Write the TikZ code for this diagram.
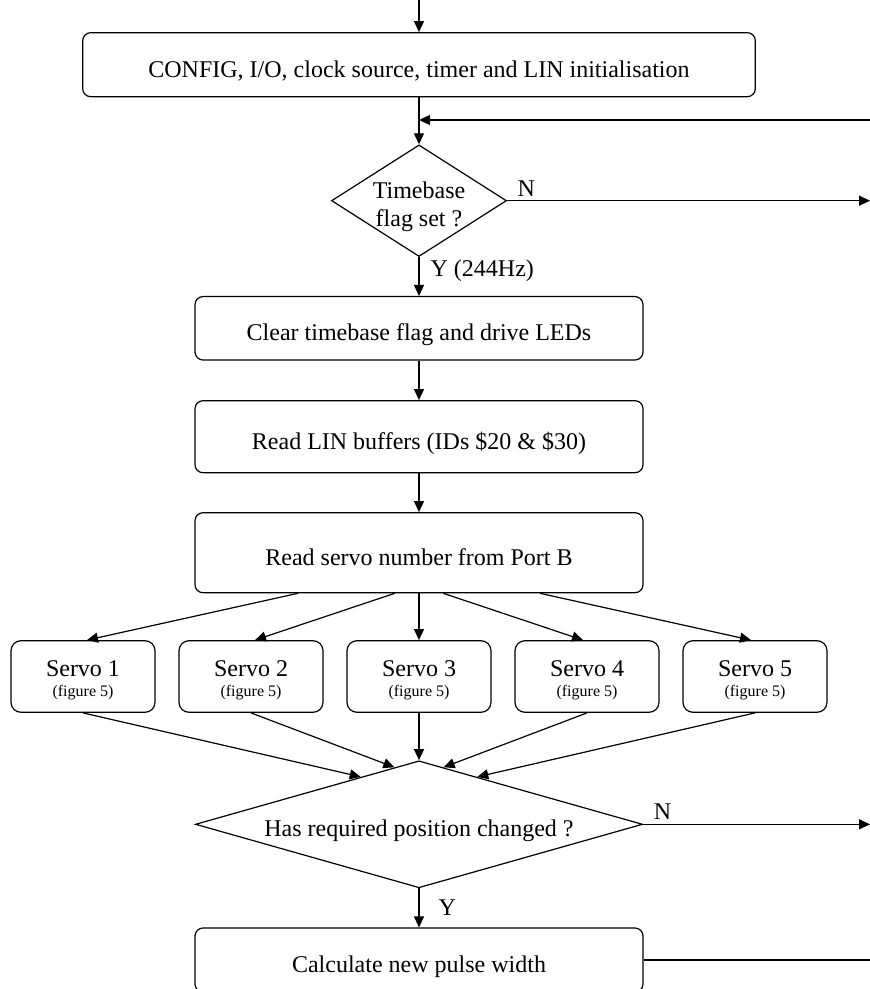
\documentclass[tikz,border=0pt]{standalone}
\usepackage{fontspec}
\setmainfont{Liberation Serif}
\usepackage{tikz}
\usetikzlibrary{shapes.geometric,arrows.meta,calc}

\tikzset{
  procbox/.style={draw, rounded corners=4pt, minimum width=224pt, inner sep=2pt, text height=15pt, text depth=2.5pt},
  decision/.style={draw, diamond, inner sep=0pt, align=center},
  servobox/.style={draw, rounded corners=5pt, minimum width=72pt, minimum height=35.8pt, inner sep=1pt, align=center, text height=22pt},
  flow/.style={-{Triangle[length=5.5pt,width=5pt]}},
  lbl/.style={inner sep=2pt}
}

\begin{document}
\begin{tikzpicture}[x=0.5pt, y=-0.5pt, line width=0.6pt, font=\fontsize{12}{14}\selectfont]
        \useasboundingbox (0,0) rectangle (870,989);

        % Initialisation
        \node[procbox, minimum width=336.3pt, minimum height=32pt] (init) at (419,64.7) {CONFIG, I/O, clock source, timer and LIN initialisation};

        % Timebase test
        \node[decision, aspect=1.6, inner sep=-2pt, text height=28pt, minimum width=87.5pt, minimum height=55.8pt] (tb) at (419,200.7) {Timebase\\flag set ?};

        % Main steps
        \node[procbox, minimum height=31.7pt] (clr) at (419,328.3) {Clear timebase flag and drive LEDs};
        \node[procbox, minimum height=36pt] (lin) at (419,436.7) {Read LIN buffers (IDs \$20 \& \$30)};
        \node[procbox, minimum height=40pt] (rsv) at (419,552.7) {Read servo number from Port B};

        % Servo branches
        \foreach \i/\x in {1/83,2/251,3/419,4/587,5/755}
          \node[servobox] (servo\i) at (\x,676.5) {Servo \i\\[-4pt]{\fontsize{8}{9}\selectfont (figure 5)}};

        % Position test
        \node[decision, aspect=3.5, text height=15pt, text depth=2.5pt, minimum width=223.6pt, minimum height=63.5pt] (chg) at (419,824.3) {Has required position changed ?};

        \node[procbox, minimum height=32pt] (calc) at (419,960) {Calculate new pulse width};

        % Loose ends
        \coordinate (entry) at (419,0);
        \coordinate (back) at (870,120);
        \coordinate (rim) at (870,0);

        % Connectors
        \draw[flow] (entry) -- (init);
        \draw[flow] (init) -- (tb);
        \draw[flow] (back) -- (back -| init.south);
        \draw[flow] (tb.east) -- node[lbl, pos=0, above right, xshift=3pt] {N} (tb.east -| rim);
        \draw[flow] (tb) -- node[lbl, pos=0.35, right, xshift=3.5pt] {Y (244Hz)} (clr);
        \draw[flow] (clr) -- (lin);
        \draw[flow] (lin) -- (rsv);
        \foreach \i/\dx/\tx in {1/-121/4, 2/-24.3/4, 3/0/0, 4/24.3/-4, 5/121/-4}
          \draw[flow] ($(rsv.south)+(\dx,0)$) -- ($(servo\i.north)+(\tx,0)$);
        \foreach \i/\f/\c in {1/0.26/west, 2/0.11/west, 3/0/west, 4/0.11/east, 5/0.26/east}
          \draw[flow] (servo\i.south) -- ($(chg.north)!\f!(chg.\c)$);
        \draw[flow] (chg.east) -- node[lbl, pos=0, above right, xshift=3pt] {N} (chg.east -| rim);
        \draw[flow] (chg) -- node[lbl, right, xshift=7.5pt] {Y} (calc);
        \draw (calc.east) -- (calc.east -| rim);

      \end{tikzpicture}
\end{document}
